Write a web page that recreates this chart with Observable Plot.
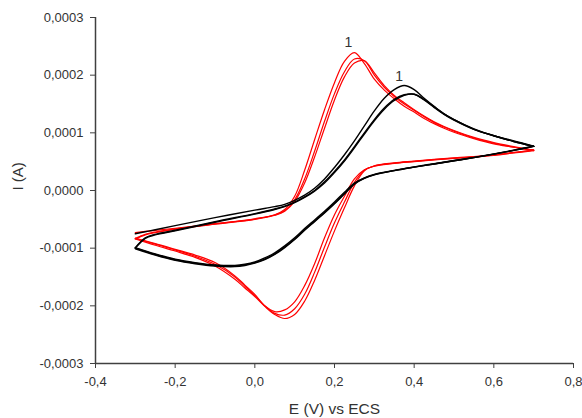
<!DOCTYPE html>
<html>
<head>
<meta charset="utf-8">
<script src="https://cdn.jsdelivr.net/npm/d3@7"></script>
<script src="https://cdn.jsdelivr.net/npm/@observablehq/plot@0.6"></script>
<style>
  html, body { margin: 0; padding: 0; background: #fff; }
</style>
</head>
<body>
<div id="chart"></div>
<script>
// Potential grids (V vs ECS)
const E_anodic = [-0.3,-0.275,-0.25,-0.2,-0.1,0,0.05,0.075,0.1,0.125,0.15,0.175,0.2,0.225,0.25,0.275,0.3,0.325,0.35,0.375,0.4,0.425,0.45,0.475,0.5,0.55,0.6,0.65,0.7];
const E_cathodic = [0.7,0.65,0.6,0.55,0.5,0.45,0.4,0.35,0.3,0.275,0.25,0.225,0.2,0.175,0.15,0.125,0.1,0.075,0.05,0.025,0,-0.025,-0.05,-0.1,-0.15,-0.2,-0.25,-0.3];

// Red voltammogram, cycles 1-3 (A)
const red1_anodic = [-.73e-4,-.71e-4,-.69e-4,-.655e-4,-.575e-4,-.49e-4,-.42e-4,-.33e-4,-.10e-4,.35e-4,.88e-4,1.40e-4,1.87e-4,2.24e-4,2.39e-4,2.20e-4,1.93e-4,1.74e-4,1.59e-4,1.46e-4,1.36e-4,1.25e-4,1.16e-4,1.08e-4,1.01e-4,.90e-4,.81e-4,.75e-4,.69e-4];
const red2_anodic = [-.83e-4,-.76e-4,-.72e-4,-.665e-4,-.58e-4,-.495e-4,-.425e-4,-.35e-4,-.16e-4,.20e-4,.68e-4,1.20e-4,1.68e-4,2.06e-4,2.28e-4,2.25e-4,2.00e-4,1.79e-4,1.63e-4,1.50e-4,1.39e-4,1.28e-4,1.18e-4,1.10e-4,1.03e-4,.91e-4,.82e-4,.75e-4,.70e-4];
const red3_anodic = [-.84e-4,-.77e-4,-.73e-4,-.67e-4,-.585e-4,-.50e-4,-.43e-4,-.36e-4,-.19e-4,.13e-4,.58e-4,1.08e-4,1.57e-4,1.97e-4,2.21e-4,2.25e-4,2.04e-4,1.82e-4,1.65e-4,1.52e-4,1.40e-4,1.29e-4,1.19e-4,1.11e-4,1.04e-4,.92e-4,.83e-4,.76e-4,.70e-4];
const red1_cathodic = [.69e-4,.65e-4,.61e-4,.58e-4,.555e-4,.53e-4,.50e-4,.47e-4,.42e-4,.36e-4,.20e-4,-.10e-4,-.42e-4,-.82e-4,-1.27e-4,-1.65e-4,-1.93e-4,-2.07e-4,-2.10e-4,-2.00e-4,-1.80e-4,-1.64e-4,-1.48e-4,-1.25e-4,-1.12e-4,-1.02e-4,-.92e-4,-.83e-4];
const red2_cathodic = [.70e-4,.655e-4,.615e-4,.585e-4,.56e-4,.535e-4,.505e-4,.475e-4,.425e-4,.35e-4,.14e-4,-.20e-4,-.56e-4,-.98e-4,-1.42e-4,-1.80e-4,-2.05e-4,-2.16e-4,-2.13e-4,-2.00e-4,-1.82e-4,-1.66e-4,-1.50e-4,-1.28e-4,-1.14e-4,-1.03e-4,-.93e-4,-.83e-4];
const red3_cathodic = [.70e-4,.66e-4,.62e-4,.59e-4,.565e-4,.54e-4,.51e-4,.48e-4,.43e-4,.34e-4,.08e-4,-.30e-4,-.70e-4,-1.13e-4,-1.56e-4,-1.92e-4,-2.15e-4,-2.22e-4,-2.15e-4,-2.01e-4,-1.84e-4,-1.69e-4,-1.54e-4,-1.31e-4,-1.16e-4,-1.05e-4,-.95e-4,-.84e-4];

// Black voltammogram, cycles 1-3 (A)
const black1_anodic = [-.75e-4,-.715e-4,-.68e-4,-.61e-4,-.47e-4,-.34e-4,-.28e-4,-.24e-4,-.17e-4,-.08e-4,.04e-4,.20e-4,.40e-4,.62e-4,.86e-4,1.12e-4,1.38e-4,1.60e-4,1.75e-4,1.82e-4,1.75e-4,1.60e-4,1.46e-4,1.33e-4,1.23e-4,1.07e-4,.95e-4,.86e-4,.77e-4];
const black2_anodic = [-.99e-4,-.82e-4,-.76e-4,-.69e-4,-.54e-4,-.40e-4,-.32e-4,-.27e-4,-.20e-4,-.11e-4,.00e-4,.15e-4,.33e-4,.53e-4,.76e-4,1.00e-4,1.23e-4,1.43e-4,1.58e-4,1.66e-4,1.67e-4,1.57e-4,1.44e-4,1.32e-4,1.22e-4,1.06e-4,.95e-4,.85e-4,.765e-4];
const black3_anodic = [-1.00e-4,-.83e-4,-.77e-4,-.70e-4,-.55e-4,-.41e-4,-.33e-4,-.28e-4,-.21e-4,-.12e-4,-.01e-4,.13e-4,.31e-4,.51e-4,.74e-4,.98e-4,1.21e-4,1.41e-4,1.56e-4,1.65e-4,1.67e-4,1.58e-4,1.45e-4,1.33e-4,1.23e-4,1.06e-4,.95e-4,.85e-4,.765e-4];
const black1_cathodic = [.77e-4,.70e-4,.635e-4,.575e-4,.52e-4,.465e-4,.41e-4,.35e-4,.28e-4,.22e-4,.13e-4,-.03e-4,-.20e-4,-.36e-4,-.51e-4,-.66e-4,-.82e-4,-.96e-4,-1.08e-4,-1.17e-4,-1.24e-4,-1.28e-4,-1.30e-4,-1.29e-4,-1.25e-4,-1.19e-4,-1.10e-4,-.99e-4];
const black2_cathodic = [.765e-4,.695e-4,.63e-4,.57e-4,.515e-4,.46e-4,.405e-4,.345e-4,.275e-4,.215e-4,.12e-4,-.05e-4,-.22e-4,-.38e-4,-.53e-4,-.68e-4,-.84e-4,-.98e-4,-1.10e-4,-1.19e-4,-1.25e-4,-1.29e-4,-1.31e-4,-1.30e-4,-1.26e-4,-1.20e-4,-1.11e-4,-1.00e-4];
const black3_cathodic = [.765e-4,.695e-4,.63e-4,.57e-4,.515e-4,.46e-4,.405e-4,.345e-4,.27e-4,.21e-4,.11e-4,-.06e-4,-.23e-4,-.39e-4,-.54e-4,-.69e-4,-.85e-4,-.99e-4,-1.11e-4,-1.20e-4,-1.26e-4,-1.30e-4,-1.32e-4,-1.31e-4,-1.27e-4,-1.21e-4,-1.12e-4,-1.01e-4];

// Cycle-1 annotations
const cycleLabels = ["1", "1"];
const cycleLabelE = [0.235, 0.362];
const cycleLabelI = [2.56e-4, 1.98e-4];

// Axis ticks
const xTicks = [-0.4, -0.2, 0, 0.2, 0.4, 0.6, 0.8];
const yTicks = [-0.0003, -0.0002, -0.0001, 0, 0.0001, 0.0002, 0.0003];
const xLabel = "E (V) vs ECS";
const yLabel = "I (A)";

function toRows(E, I, id) { return E.map((e, i) => ({E: e, I: I[i], id})); }
const redRows = [
  ...toRows(E_anodic, red1_anodic, "r1a"), ...toRows(E_cathodic, red1_cathodic, "r1c"),
  ...toRows(E_anodic, red2_anodic, "r2a"), ...toRows(E_cathodic, red2_cathodic, "r2c"),
  ...toRows(E_anodic, red3_anodic, "r3a"), ...toRows(E_cathodic, red3_cathodic, "r3c")
];
const blackRows = [
  ...toRows(E_anodic, black1_anodic, "b1a"), ...toRows(E_cathodic, black1_cathodic, "b1c"),
  ...toRows(E_anodic, black2_anodic, "b2a"), ...toRows(E_cathodic, black2_cathodic, "b2c"),
  ...toRows(E_anodic, black3_anodic, "b3a"), ...toRows(E_cathodic, black3_cathodic, "b3c")
];
const labelRows = cycleLabels.map((t, i) => ({t, E: cycleLabelE[i], I: cycleLabelI[i]}));

const fmtX = d => d.toFixed(1).replace(".", ",");
const fmtY = d => (Math.abs(d) < 1e-12 ? 0 : d).toFixed(4).replace(".", ",");

const chart = Plot.plot({
  width: 582,
  height: 418,
  marginLeft: 95,
  marginRight: 9,
  marginTop: 17,
  marginBottom: 55,
  style: {fontFamily: "'Liberation Sans', Arial, sans-serif", fontSize: "13px", background: "#fff", color: "#333"},
  x: {domain: [-0.4, 0.8], label: null},
  y: {domain: [-0.0003, 0.0003], label: null},
  marks: [
    Plot.line(redRows, {x: "E", y: "I", z: "id", stroke: "#ff0000", strokeWidth: 1.2, curve: "catmull-rom"}),
    Plot.line(blackRows, {x: "E", y: "I", z: "id", stroke: "#000000", strokeWidth: 1.4, curve: "catmull-rom"}),
    Plot.text(labelRows, {x: "E", y: "I", text: "t", fontSize: 14, fill: "#333"}),
    Plot.ruleX([-0.4], {stroke: "#404040", strokeWidth: 1.5}),
    Plot.ruleY([-0.0003], {stroke: "#404040", strokeWidth: 1.5}),
    Plot.axisX({ticks: xTicks, tickFormat: fmtX, tickSize: 5, tickPadding: 8, stroke: "#404040", fill: "#333", fontSize: 13, label: null}),
    Plot.axisY({ticks: yTicks, tickFormat: fmtY, tickSize: 5, tickPadding: 7, stroke: "#404040", fill: "#333", fontSize: 13, label: null}),
    Plot.text([xLabel], {text: d => d, frameAnchor: "bottom", dy: 50, fontSize: 15.5, fill: "#333"}),
    Plot.text([yLabel], {text: d => d, frameAnchor: "left", dx: -77, rotate: -90, fontSize: 15, fill: "#333"})
  ]
});
document.getElementById("chart").appendChild(chart);
</script>
</body>
</html>
